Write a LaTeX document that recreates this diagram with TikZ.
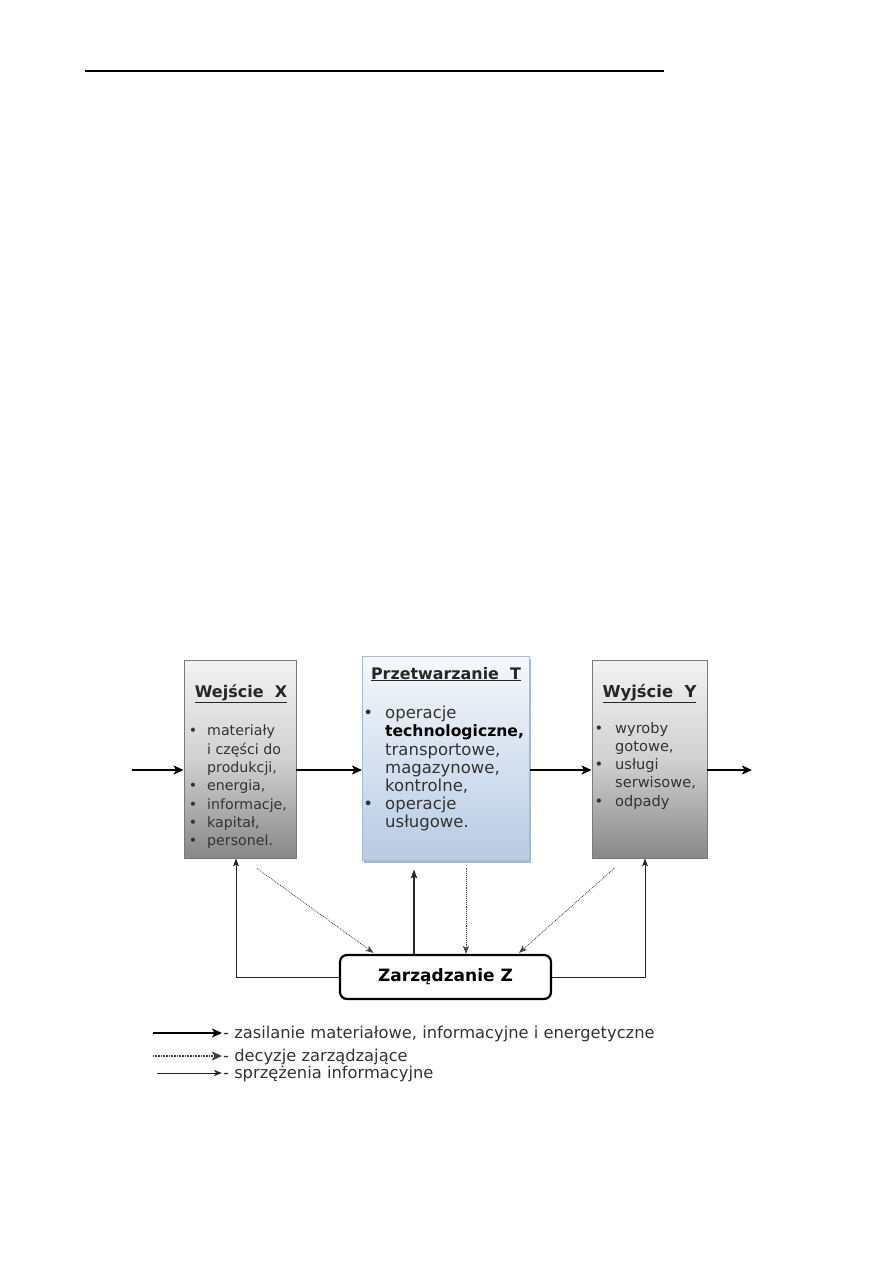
\documentclass[tikz,border=0pt]{standalone}
\usepackage{fontspec}
\setmainfont{DejaVu Sans}
\usetikzlibrary{arrows.meta,shadows}
\definecolor{boxline}{HTML}{7A7A7A}
\definecolor{bluetop}{HTML}{F6F8FC}
\definecolor{bluebot}{HTML}{B7CBE4}
\definecolor{blueline}{HTML}{A3BBDA}
\definecolor{blueshadow}{HTML}{8FA6C6}
\definecolor{dotgrey}{HTML}{444444}
\definecolor{txtgrey}{HTML}{333333}
\begin{document}
\begin{tikzpicture}[x=1pt,y=-1pt,
  greybox/.style={draw=boxline, line width=0.9pt, top color=black!5, bottom color=black!47, middle color=black!18, inner sep=0pt},
  bluebox/.style={draw=blueline, line width=1pt, top color=bluetop, bottom color=bluebot, inner sep=0pt,
     drop shadow={shadow xshift=1.5pt, shadow yshift=-3pt, fill=blueshadow, opacity=0.8}},
  zbox/.style={draw=black, line width=2.2pt, rounded corners=7pt, fill=white, minimum width=211pt, minimum height=44pt, inner sep=0pt, font=\fontsize{17}{20}\selectfont\bfseries},
  title/.style={inner sep=0pt, anchor=base, text=black!85},
  list/.style={inner sep=0pt, anchor=north west, align=left, text=txtgrey},
  thickarrow/.style={line width=2pt, -{Stealth[length=10pt,width=9pt,inset=2.5pt]}},
  thinarrow/.style={line width=0.9pt, black!85, -{Stealth[length=8pt,width=6pt,inset=2pt]}},
  midarrow/.style={line width=1.5pt, black!85, -{Stealth[length=9pt,width=6.5pt,inset=2pt]}},
  dotarrow/.style={line width=0.8pt, dotgrey, dash pattern=on 0.9pt off 1pt, -{Stealth[length=8pt,width=6pt,inset=2pt]}},
  legdot/.style={line width=2pt, black!75, dash pattern=on 1pt off 0.6pt, -{Stealth[length=10pt,width=9pt,inset=2.5pt]}},
  legtext/.style={inner sep=0pt, anchor=base west, font=\fontsize{16.3}{19}\selectfont, text=txtgrey}
]
\useasboundingbox (0,0) rectangle (893,1263);

% top rule
\coordinate (r1) at (85,71);
\coordinate (r2) at (664,71);
\draw[line width=1.1pt] (r1) -- (r2);

% boxes
\node[greybox, minimum width=112pt, minimum height=198pt] (w) at (240,759) {};
\node[bluebox, minimum width=167pt, minimum height=204pt] (t) at (446,758) {};
\node[greybox, minimum width=115pt, minimum height=198pt] (y) at (649.5,759) {};
\node[zbox] (z) at (445.5,977) {Zarządzanie Z};

% titles
\node[title, font=\fontsize{16}{19}\selectfont\bfseries] (wt) at (241,697) {\underline{Wejście\ \ X}};
\node[title, font=\fontsize{15.9}{18}\selectfont\bfseries] (tt) at (446,679) {\underline{Przetwarzanie\ \ T}};
\node[title, font=\fontsize{16.4}{19}\selectfont\bfseries] (yt) at (649.5,697) {\underline{Wyjście\ \ Y}};

% lists
\node[list, font=\fontsize{14.2}{18.3}\selectfont] (wl) at (207,725)
 {\llap{\textbullet\hspace{10pt}}materiały\\
  i części do\\
  produkcji,\\
  \llap{\textbullet\hspace{10pt}}energia,\\
  \llap{\textbullet\hspace{10pt}}informacje,\\
  \llap{\textbullet\hspace{10pt}}kapitał,\\
  \llap{\textbullet\hspace{10pt}}personel.};
\node[list, font=\fontsize{16.5}{18.2}\selectfont] (tl) at (385,706)
 {\llap{\textbullet\hspace{12pt}}operacje\\
  {\fontsize{15.6}{18.2}\selectfont\textbf{\textcolor{black}{technologiczne,}}}\\
  transportowe,\\
  magazynowe,\\
  kontrolne,\\
  \llap{\textbullet\hspace{12pt}}operacje\\
  usługowe.};
\node[list, font=\fontsize{14.6}{18.2}\selectfont] (yl) at (615,722)
 {\llap{\textbullet\hspace{12pt}}wyroby\\
  gotowe,\\
  \llap{\textbullet\hspace{12pt}}usługi\\
  serwisowe,\\
  \llap{\textbullet\hspace{12pt}}odpady};

% main flow
\coordinate (in) at (132,770);
\coordinate (out) at (752,770);
\draw[thickarrow] (in) -- (w.west |- in);
\draw[thickarrow] (w.east |- in) -- (t.west |- in);
\draw[thickarrow] (t.east |- in) -- (y.west |- in);
\draw[thickarrow] (y.east |- in) -- (out);

% feedback
\draw[thinarrow] (z.west) -| ([xshift=-4pt]w.south);
\draw[thinarrow] (z.east) -| ([xshift=-4.5pt]y.south);
\draw[midarrow] ([xshift=-31.5pt]z.north) -- ([xshift=-32pt,yshift=-9pt]t.south);

% decisions
\draw[dotarrow] ([xshift=20pt,yshift=-7pt]t.south) -- ([xshift=20.5pt]z.north);
\draw[dotarrow] ([xshift=17pt,yshift=-10pt]w.south) -- ([xshift=-72pt,yshift=1pt]z.north);
\draw[dotarrow] ([xshift=-35.5pt,yshift=-10pt]y.south) -- ([xshift=73.5pt,yshift=1pt]z.north);

% legend
\coordinate (l1a) at (153,1033);
\coordinate (l1b) at (222,1033);
\coordinate (l2a) at (153,1056);
\coordinate (l2b) at (222,1056);
\coordinate (l3a) at (157,1073);
\coordinate (l3b) at (222,1073);
\draw[thickarrow] (l1a) -- (l1b);
\draw[legdot] (l2a) -- (l2b);
\draw[thinarrow] (l3a) -- (l3b);
\node[legtext] (lt1) at (223,1038) {- zasilanie materiałowe, informacyjne i energetyczne};
\node[legtext] (lt2) at (223,1061) {- decyzje zarządzające};
\node[legtext] (lt3) at (223,1078) {- sprzężenia informacyjne};
\end{tikzpicture}
\end{document}
